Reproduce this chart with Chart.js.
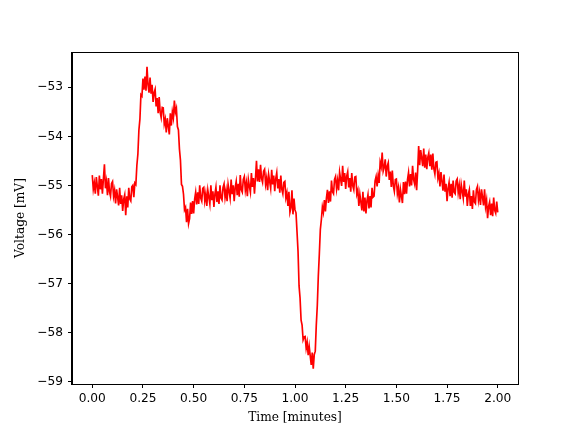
<!DOCTYPE html>
<html>
<head>
<meta charset="utf-8">
<script src="https://cdn.jsdelivr.net/npm/chart.js@4/dist/chart.umd.min.js"></script>
<style>
  html, body { margin: 0; padding: 0; background: #fff; }
  #wrap { width: 576px; height: 432px; }
</style>
</head>
<body>
<div id="wrap"><canvas id="trace" width="576" height="432"></canvas></div>
<script>
// sampling step of the recording, in minutes
const sampleStep = 0.005;

// voltage trace [mV], one value per sample
const voltage = [
  -54.79, -55.08, -54.95, -55.17, -54.83, -55.02, -55.21, -54.80, -55.08, -54.87,
  -55.17, -54.86, -54.57, -55.06, -54.92, -55.20, -54.85, -55.13, -55.22, -54.96,
  -54.92, -55.22, -55.10, -55.37, -55.08, -55.24, -55.41, -55.05, -55.38, -55.20,
  -55.52, -55.28, -55.19, -55.61, -55.22, -55.45, -55.05, -55.28, -55.32, -55.03,
  -55.00, -55.24, -54.95, -54.98, -54.59, -54.36, -53.87, -53.65, -53.15, -53.18,
  -52.82, -53.05, -52.78, -53.07, -52.58, -52.95, -53.11, -52.80, -53.13, -52.95,
  -53.30, -53.11, -53.04, -53.39, -53.22, -53.53, -53.20, -53.51, -53.62, -53.41,
  -53.42, -53.75, -53.65, -53.92, -53.63, -53.79, -53.96, -53.53, -53.78, -53.50,
  -53.62, -53.27, -53.51, -53.43, -53.80, -53.87, -54.26, -54.49, -54.98, -55.02,
  -55.18, -55.50, -55.45, -55.75, -55.48, -55.78, -55.68, -55.35, -55.58, -55.32,
  -55.57, -55.28, -55.14, -55.39, -55.14, -55.38, -55.00, -55.26, -55.32, -55.06,
  -55.04, -55.32, -55.17, -55.42, -55.10, -55.24, -55.38, -55.00, -55.30, -55.12,
  -55.44, -55.18, -55.04, -55.34, -55.12, -55.38, -55.00, -55.26, -55.30, -55.04,
  -54.97, -55.25, -55.10, -55.32, -54.98, -55.12, -55.26, -54.88, -55.18, -55.00,
  -55.32, -55.04, -54.92, -55.20, -54.97, -55.23, -54.79, -55.09, -55.14, -54.88,
  -54.82, -55.10, -54.95, -55.22, -54.88, -55.02, -55.14, -54.75, -55.03, -54.85,
  -55.17, -54.86, -54.50, -54.92, -54.67, -54.93, -54.58, -54.86, -54.94, -54.71,
  -54.67, -54.98, -54.85, -55.10, -54.78, -54.92, -55.06, -54.68, -54.98, -54.80,
  -55.12, -54.86, -54.74, -55.06, -54.87, -55.15, -54.80, -55.08, -55.17, -54.94,
  -54.92, -55.25, -55.15, -55.42, -55.13, -55.55, -55.46, -55.10, -55.59, -55.27,
  -55.50, -55.56, -55.95, -56.35, -57.05, -57.30, -57.75, -57.85, -58.15, -58.09,
  -58.08, -58.32, -58.20, -58.46, -58.28, -58.47, -58.66, -58.41, -58.74, -58.45,
  -58.38, -57.85, -57.45, -56.85, -56.40, -55.90, -55.70, -55.44, -55.55, -55.30,
  -55.53, -55.26, -55.09, -55.36, -55.12, -55.33, -54.90, -55.13, -55.17, -54.88,
  -54.82, -55.07, -54.90, -55.10, -54.73, -54.87, -55.01, -54.60, -54.93, -54.75,
  -55.07, -54.81, -54.72, -55.04, -54.85, -55.13, -54.75, -55.01, -55.09, -54.83,
  -54.82, -55.18, -55.10, -55.42, -55.18, -55.34, -55.51, -55.13, -55.53, -55.25,
  -55.57, -55.31, -55.19, -55.47, -55.22, -55.45, -55.05, -55.24, -55.22, -54.91,
  -54.82, -55.02, -54.80, -54.95, -54.53, -54.62, -54.33, -54.71, -54.63, -54.47,
  -54.82, -54.61, -54.54, -54.89, -54.72, -55.03, -54.70, -55.01, -55.12, -54.88,
  -54.87, -55.17, -55.05, -55.35, -55.08, -55.22, -55.36, -54.93, -55.18, -54.92,
  -55.17, -54.88, -54.74, -55.02, -54.77, -55.00, -54.60, -54.88, -54.97, -54.74,
  -55.10, -54.70, -54.20, -54.59, -54.28, -54.44, -54.61, -54.25, -54.64, -54.37,
  -54.67, -54.43, -54.34, -54.61, -54.37, -54.68, -54.35, -54.66, -54.77, -54.53,
  -54.52, -54.85, -54.75, -55.02, -54.73, -54.92, -55.11, -54.78, -55.13, -54.97,
  -55.32, -55.06, -54.94, -55.22, -54.97, -55.25, -54.90, -55.14, -55.17, -54.91,
  -54.87, -55.15, -55.00, -55.28, -54.98, -55.12, -55.26, -54.90, -55.23, -55.08,
  -55.42, -55.18, -55.09, -55.42, -55.22, -55.48, -55.10, -55.34, -55.37, -55.08,
  -55.02, -55.30, -55.15, -55.40, -55.08, -55.24, -55.41, -55.08, -55.43, -55.30,
  -55.67, -55.43, -55.34, -55.61, -55.37, -55.63, -55.25, -55.51, -55.57, -55.33,
  -55.55
];

const xTicks = [0, 0.25, 0.5, 0.75, 1, 1.25, 1.5, 1.75, 2];
const yTicks = [-59, -58, -57, -56, -55, -54, -53];

const points = voltage.map((v, i) => ({ x: i * sampleStep, y: v }));

const tickFont = { family: 'DejaVu Sans', size: 12.2 };
const titleFont = { family: 'DejaVu Serif', size: 12.2 };

// top and right spines, like a matplotlib axes box
const frame = {
  id: 'frame',
  afterDraw(chart) {
    const a = chart.chartArea;
    const ctx = chart.ctx;
    ctx.save();
    ctx.strokeStyle = '#000';
    ctx.lineWidth = 1;
    ctx.strokeRect(Math.round(a.left) - 0.5, Math.round(a.top) + 0.5,
      Math.round(a.right - a.left) + 1, Math.round(a.bottom - a.top));
    ctx.restore();
  }
};

new Chart(document.getElementById('trace'), {
  type: 'line',
  data: {
    datasets: [{
      data: points,
      borderColor: '#ff0000',
      borderWidth: 1.67,
      pointRadius: 0,
      tension: 0,
      fill: false
    }]
  },
  options: {
    responsive: false,
    animation: false,
    layout: { padding: { top: 52, right: 58, left: 0, bottom: 0 } },
    plugins: { legend: { display: false }, tooltip: { enabled: false } },
    scales: {
      x: {
        type: 'linear',
        min: -0.1,
        max: 2.1,
        afterFit(s) { s.height = 48; },
        afterBuildTicks(s) { s.ticks = xTicks.map(v => ({ value: v })); },
        grid: { drawOnChartArea: false, drawTicks: true, tickLength: 4, color: '#000' },
        border: { display: true, color: '#000', width: 1 },
        ticks: {
          color: '#000',
          font: tickFont,
          padding: 4,
          maxRotation: 0,
          autoSkip: false,
          callback: v => v.toFixed(2)
        },
        title: {
          display: true,
          text: 'Time [minutes]',
          color: '#000',
          font: titleFont,
          padding: { top: 0, bottom: 7 }
        }
      },
      y: {
        type: 'linear',
        min: -59.05,
        max: -52.28,
        afterFit(s) { s.width = 72; },
        afterBuildTicks(s) { s.ticks = yTicks.map(v => ({ value: v })); },
        grid: { drawOnChartArea: false, drawTicks: true, tickLength: 4, color: '#000' },
        border: { display: true, color: '#000', width: 1 },
        ticks: {
          color: '#000',
          font: tickFont,
          padding: 5,
          autoSkip: false,
          callback: v => (v < 0 ? '\u2212' : '') + Math.abs(v)
        },
        title: {
          display: true,
          text: 'Voltage [mV]',
          color: '#000',
          font: titleFont,
          padding: { top: 14, bottom: 0 }
        }
      }
    }
  },
  plugins: [frame]
});
</script>
</body>
</html>
